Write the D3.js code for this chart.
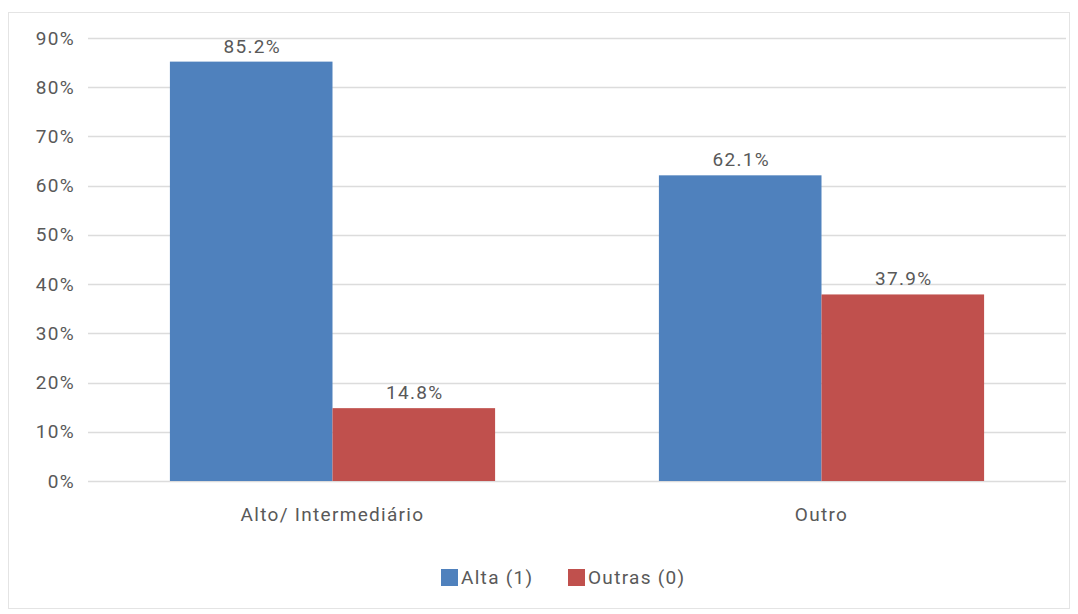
<!DOCTYPE html>
<html><head><meta charset="utf-8">
<script src="https://cdn.jsdelivr.net/npm/d3@7"></script>
<style>
html,body{margin:0;padding:0;background:#fff;}
svg text{font-family:Roboto,"Open Sans",sans-serif;fill:#595959;}
</style></head>
<body>
<svg id="chart" width="1078" height="614"></svg>
<script>
const categories = ["Alto/ Intermediário", "Outro"];
const seriesNames = ["Alta (1)", "Outras (0)"];
const alta = [0.852, 0.621];
const outras = [0.148, 0.379];
const yTicks = [0, 0.1, 0.2, 0.3, 0.4, 0.5, 0.6, 0.7, 0.8, 0.9];
const colors = ["#4f81bd", "#c0504d"];

(function () {
const FS = "19px", LS = "1.3px";
const svg = d3.select("#chart");
svg.append("rect").attr("x", 8.5).attr("y", 12.5).attr("width", 1061).attr("height", 596)
  .attr("fill", "#fff").attr("stroke", "#e4e4e4");

const mLeft = 88, mRight = 1066, mTop = 38, mBottom = 481;
const y = d3.scaleLinear().domain([0, 0.9]).range([mBottom, mTop]);
const x0 = d3.scaleBand().domain(categories).range([mLeft, mRight]).paddingInner(0.335).paddingOuter(0.1675);
const x1 = d3.scaleBand().domain(seriesNames).range([0, x0.bandwidth()]);

// gridlines
svg.append("g").selectAll("line").data(yTicks).join("line")
  .attr("x1", mLeft).attr("x2", mRight)
  .attr("y1", d => Math.round(y(d)) + 0.5).attr("y2", d => Math.round(y(d)) + 0.5)
  .attr("stroke", "#dcdcdc").attr("stroke-width", 1.5);

// y axis labels
const yAxis = d3.axisLeft(y).tickValues(yTicks).tickFormat(d3.format(".0%")).tickSize(0).tickPadding(13);
const gy = svg.append("g").attr("transform", `translate(${mLeft},0)`).call(yAxis);
gy.select(".domain").remove();
gy.selectAll("text").style("font-size", FS).style("letter-spacing", LS).attr("fill", "#595959").style("font-family", "Roboto, sans-serif");

// x axis labels
const xAxis = d3.axisBottom(x0).tickSize(0).tickPadding(27);
const gx = svg.append("g").attr("transform", `translate(0,${mBottom})`).call(xAxis);
gx.select(".domain").remove();
gx.selectAll("text").style("font-size", FS).attr("fill", "#595959").style("font-family", "Roboto, sans-serif").style("letter-spacing", LS);

const data = categories.map((c, i) => ({cat: c, vals: [alta[i], outras[i]]}));
const groups = svg.append("g").selectAll("g").data(data).join("g")
  .attr("transform", d => `translate(${x0(d.cat)},0)`);

groups.selectAll("rect").data(d => d.vals.map((v, j) => ({name: seriesNames[j], v, j}))).join("rect")
  .attr("x", d => x1(d.name)).attr("width", x1.bandwidth())
  .attr("y", d => y(d.v)).attr("height", d => mBottom - y(d.v))
  .attr("fill", d => colors[d.j]);

groups.selectAll("text.lbl").data(d => d.vals.map((v, j) => ({name: seriesNames[j], v, j}))).join("text")
  .attr("class", "lbl")
  .attr("x", d => x1(d.name) + x1.bandwidth() / 2 + 1)
  .attr("y", d => y(d.v) - 9)
  .attr("text-anchor", "middle")
  .style("font-size", FS).style("letter-spacing", LS)
  .text(d => d3.format(".1%")(d.v));

// legend
const legendItems = [{name: seriesNames[0], x: 441}, {name: seriesNames[1], x: 568}];
const lg = svg.append("g");
legendItems.forEach((it, i) => {
  lg.append("rect").attr("x", it.x).attr("y", 569).attr("width", 17).attr("height", 17).attr("fill", colors[i]);
  lg.append("text").attr("x", it.x + 20).attr("y", 584).style("font-size", FS).style("letter-spacing", LS).text(it.name);
});
})();
</script>
</body></html>
